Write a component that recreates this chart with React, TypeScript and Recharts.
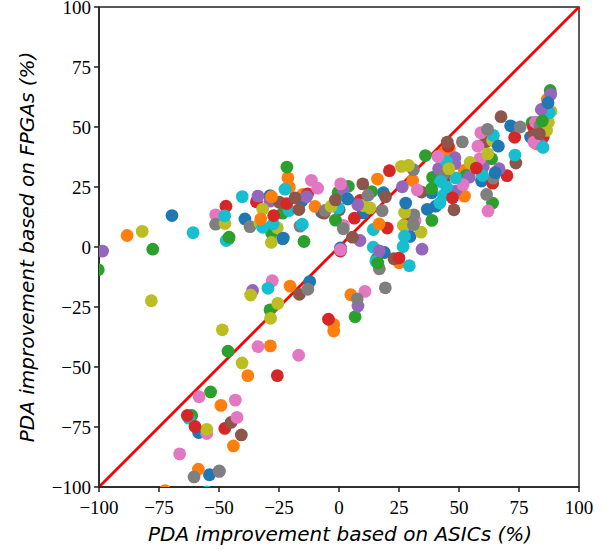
import { ReferenceArea, ReferenceLine, Scatter, ScatterChart, XAxis, YAxis } from "recharts";

const axisTicks = [-100, -75, -50, -25, 0, 25, 50, 75, 100];

// points that sit under the others
const bluePoints = [
  [-69.6, 13.1], [-23.5, 3.4], [-12.2, -14.4], [-58.5, -77.3], [-54, -94.9], [-39.2, 11.7],
  [-28.75, 21.4], [-15.6, 19.1], [-7.2, 14.5], [10.1, 14.2],
  [0.6, -0.4], [79.8, 45.8], [71.5, 50.5], [38.6, 22.6],
  [59.4, 27.5], [40.3, 17], [36.8, 15.7], [18.5, 22.6],
  [29.6, 4.4], [18.9, -2.3],
];
const orangePoints = [
  [-88.3, 4.8], [-20.4, -16.3], [-28.6, -41.2], [-38, -53.6], [-2.2, -32.3], [-2.2, -35],
  [-49.2, -66], [-44, -82.9], [-58.6, -92.6], [-72.5, -101.5],
  [-21.3, 28.8], [-20.7, 24.9], [-15.1, 21.9], [-10, 16.9], [16, 28.3],
  [86.8, 61.5], [82.3, 43], [44.2, 40], [46, 40.9], [52.2, 31.9], [52.3, 21.2],
  [30.7, 27.7], [25.1, -6.6], [4.9, -19.9],
];
const greenPoints = [
  [-77.6, -0.9], [-100.3, -9.5], [-46, 3.4], [-14.6, 2.3], [-28.75, -26.2], [-46.25, -43.4],
  [-53.5, -60.4], [-61.4, -70.2], [-28.1, 5.8], [-21.7, 33.3], [-23.5, 14.1],
  [3.9, 25.3], [-0.3, 22.8], [13.6, 23.1], [15.7, -5], [88, 65.2], [80.4, 51.8],
  [63.6, 36.8], [36, 38.1], [39, 29], [52.9, 29.8],
  [64, 18.3], [38.7, 11.1], [6.7, -29.1],
];
const redPoints = [
  [-25.7, -53.6], [-4.4, -30.1], [-47.6, -75.6],
  [-34.4, 18.8], [-13.1, 22.1], [8.75, 19.4],
  [0.6, -1.7], [85.1, 45.8], [81, 50], [73.2, 45.7], [70, 29.7], [45.5, 42],
  [44.2, 28.8], [64, 26.6], [21, 31.8], [20.1, 7.9],
];
const purplePoints = [
  [-98.5, -1.7], [-36, -18.1], [-33.75, 21.2], [-28.75, 19.1], [-13.5, 21], [1.8, 24.1],
  [8.75, 2.7], [88.2, 63.6], [84.4, 42.3],
  [48.3, 37.2], [48.3, 34.7], [41.5, 32.6], [54.3, 29.1], [60.1, 33.3], [66.7, 32.6],
  [48.6, 23.3], [26.4, 25.1], [34.6, -0.9], [7.9, -24.6], [-49.9, -93.5],
];
const brownPoints = [
  [-16.5, -19.7], [-45, -73.1], [-40.7, -78.3], [-24.9, 18.7],
  [-6.25, 14.1], [0.1, 15.5], [9.9, 26.3], [81, 46.5],
  [67.5, 54.3], [73.7, 35], [61, 43.7], [45.1, 43.7],
  [34.4, 22.9], [19.4, 20.9], [27.9, 9.7], [22.9, -4.9],
];
const pinkPoints = [
  [-27.8, -14], [-33.75, -41.5], [-16.8, -45.1], [-58.3, -62.4], [-43.2, -63.8], [-55.1, -77.7],
  [-42.5, -71], [-66.4, -86.2], [-51.4, 13.4], [-11.5, 27.8], [-8.9, 24.5], [1.8, 9],
  [0.7, 26.3], [81.9, 52], [81.2, 43.7], [59.1, 47.6], [57.9, 42],
  [58.7, 36.8], [51.7, 26], [62.1, 15], [31.7, 11],
  [10.8, -18.5],
];
const grayPoints = [
  [-13, -17.6], [-60.4, -95.8], [-49.9, -93.3], [-51.4, 9.5], [-37.1, 8.5], [-16.25, 8.7],
  [-5.8, 15.2], [83.7, 50.6], [51.4, 43.8], [31, 32.2], [43.2, 29.8], [64.3, 28.7],
  [61.5, 21.9], [18, 15.1], [31.2, 13.4], [16.8, -9.1], [19.3, -17], [7.6, -21.6],
];
const olivePoints = [
  [-82, 6.5], [-78.2, -22.4], [-36.8, -20], [-25.5, -23.5], [-28.5, -29.7],
  [-48.6, -34.5], [-40.4, -48.3], [-47.5, 9.8], [-32.9, 9.9],
  [-25.7, 8], [10.1, 17.3], [88.3, 56.6], [86.5, 48.6],
  [87.2, 52], [64, 44.4], [54.6, 35.2], [28.9, 34],
  [26, 33.6], [27.3, 14.4], [26.8, 9], [34.2, 6.2],
];
const cyanPoints = [
  [-29.6, -17.2], [-62.6, -71.3], [-47, 2.7], [-55, -102], [-60.8, 6],
  [-40.3, 21], [-31.8, 8.2], [-27.4, 9.6], [-22.5, 24.1], [-20.8, 15.2],
  [-0.3, 16.3], [14.3, 7.3], [14.3, -0.1], [87.6, 55.9], [73.3, 38.3],
  [64.3, 46.5], [59.8, 29.8], [44.8, 35.6], [48.6, 28.8], [42.3, 27.3], [44.8, 25],
  [43.5, 21.5], [42, 18.3], [26.7, 0.2], [15.4, -6], [29.3, -7.8],
];

// points that sit on top of the pile
const topPink = [[0.6, -1.1], [41.2, 37.7], [32.6, 23.8]];
const topPurple = [[7.8, 17.6], [84.3, 57.3], [16.8, -1.6]];
const topOlive = [
  [-28.2, 1.9], [-55.1, -76], [-31.8, 15.8], [-3.3, 17], [12.9, 16.3], [62, 38.8], [45.8, 32.6],
];
const topRed = [
  [-63.2, -70.2], [-60, -74.8], [-47.1, 17], [-27.2, 13.1], [-21.8, 18.1], [6.4, 12],
  [57.2, 32.9], [47.3, 20.5], [25, -4.6],
];
const topBrown = [
  [-18.3, 20.5], [-16.7, 15.6], [-1.5, 19.6], [5.6, 4.1], [83.5, 47.2], [47.9, 15.5],
];
const topGreen = [[-45.8, 4.1], [-1.5, 11.2], [84.7, 52.5], [38.6, 24.3], [16.2, -6.7]];
const topOrange = [[-28.1, 21], [-32.6, 11.7], [16.7, 9.6]];
const topGray = [[1.8, 7.6], [12.1, 21.6], [61.9, 49], [75.5, 50], [31, 9.3]];
const topBlue = [[-23.2, 3.7], [3.6, 20], [87.1, 60.1], [66.4, 42], [65.1, 31], [27.8, 18.3]];
const topCyan = [[-47.6, 13], [-15.3, 9.5], [85, 41.5], [27.3, 4.5]];

const colors = {
  blue: "#1f77b4",
  orange: "#ff7f0e",
  green: "#2ca02c",
  red: "#d62728",
  purple: "#9467bd",
  brown: "#8c564b",
  pink: "#e377c2",
  gray: "#7f7f7f",
  olive: "#bcbd22",
  cyan: "#17becf",
};

const seriesList = [
  { name: "blue", points: bluePoints, color: colors.blue },
  { name: "orange", points: orangePoints, color: colors.orange },
  { name: "green", points: greenPoints, color: colors.green },
  { name: "red", points: redPoints, color: colors.red },
  { name: "purple", points: purplePoints, color: colors.purple },
  { name: "brown", points: brownPoints, color: colors.brown },
  { name: "pink", points: pinkPoints, color: colors.pink },
  { name: "gray", points: grayPoints, color: colors.gray },
  { name: "olive", points: olivePoints, color: colors.olive },
  { name: "cyan", points: cyanPoints, color: colors.cyan },
  { name: "topPink", points: topPink, color: colors.pink },
  { name: "topPurple", points: topPurple, color: colors.purple },
  { name: "topOlive", points: topOlive, color: colors.olive },
  { name: "topRed", points: topRed, color: colors.red },
  { name: "topBrown", points: topBrown, color: colors.brown },
  { name: "topGreen", points: topGreen, color: colors.green },
  { name: "topOrange", points: topOrange, color: colors.orange },
  { name: "topGray", points: topGray, color: colors.gray },
  { name: "topBlue", points: topBlue, color: colors.blue },
  { name: "topCyan", points: topCyan, color: colors.cyan },
];

const tickStyle = { fill: "#000000", fontSize: 19, fontFamily: "'Liberation Serif', serif" };
const labelStyle = { fill: "#000000", fontSize: 20, fontStyle: "italic", fontFamily: "'DejaVu Sans', sans-serif" };
const formatTick = (v: number) => String(v).replace("-", "\u2212");

const Dot = (props: any) => <circle cx={props.cx} cy={props.cy} r={6.4} fill={props.fill} />;

export default function App() {
  return (
    <div style={{ position: "absolute", left: 0, top: 0, width: 611, height: 550 }}>
      <ScatterChart width={611} height={550} margin={{ top: 7, right: 32, left: 0, bottom: 0 }}>
        <XAxis
          type="number"
          dataKey="x"
          domain={[-100, 100]}
          ticks={axisTicks}
          allowDataOverflow
          height={63}
          interval={0}
          tick={tickStyle}
          tickFormatter={formatTick}
          tickSize={5}
          tickMargin={9}
          stroke="#222222"
          strokeWidth={1.5}
          label={{ value: "PDA improvement based on ASICs (%)", position: "insideBottom", offset: 9, dx: 1, style: labelStyle }}
        />
        <YAxis
          type="number"
          dataKey="y"
          domain={[-100, 100]}
          ticks={axisTicks}
          allowDataOverflow
          width={99}
          interval={0}
          tick={tickStyle}
          tickFormatter={formatTick}
          tickSize={5}
          tickMargin={3}
          stroke="#222222"
          strokeWidth={1.5}
          label={{ value: "PDA improvement based on FPGAs (%)", angle: -90, position: "insideLeft", offset: 27, style: { ...labelStyle, textAnchor: "middle" } }}
        />
        {seriesList.map((s) => (
          <Scatter
            key={s.name}
            name={s.name}
            data={s.points.map(([x, y]) => ({ x, y }))}
            fill={s.color}
            shape={Dot}
            isAnimationActive={false}
          />
        ))}
        <ReferenceLine
          segment={[{ x: -100, y: -100 }, { x: 100, y: 100 }]}
          stroke="#ff0000"
          strokeWidth={2.8}
        />
        <ReferenceArea x1={-100} x2={100} y1={-100} y2={100} fillOpacity={0} stroke="#222222" strokeWidth={1.5} />
      </ScatterChart>
    </div>
  );
}
